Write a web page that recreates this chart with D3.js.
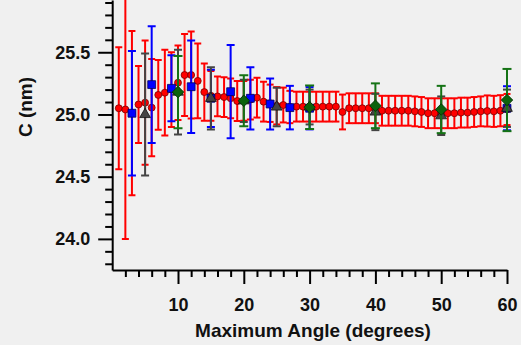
<!DOCTYPE html>
<html>
<head>
<meta charset="utf-8">
<script src="https://cdn.jsdelivr.net/npm/d3@7"></script>
<style>
  html, body { margin: 0; padding: 0; background: #f0f0f0; }
  svg { display: block; font-family: "Liberation Sans", Arial, sans-serif; font-weight: bold; }
</style>
</head>
<body>
<div id="app"></div>
<script>
// ---------- DATA ----------

// red: every degree
const redAngle = [1,2,3,4,5,6,7,8,9,10,11,12,13,14,15,16,17,18,19,20,
  21,22,23,24,25,26,27,28,29,30,31,32,33,34,35,36,37,38,39,40,
  41,42,43,44,45,46,47,48,49,50,51,52,53,54,55,56,57,58,59,60];
const redC = [25.05,25.04,25.01,25.08,25.095,25.055,25.157,25.175,25.20,25.255,
  25.317,25.317,25.27,25.18,25.15,25.145,25.14,25.13,25.108,25.11,
  25.12,25.135,25.103,25.09,25.07,25.076,25.06,25.063,25.063,25.063,
  25.063,25.063,25.063,25.063,25.02,25.05,25.05,25.05,25.05,25.05,
  25.03,25.03,25.03,25.03,25.03,25.025,25.02,25.01,25.01,25.01,
  25.01,25.01,25.015,25.015,25.02,25.025,25.028,25.025,25.03,25.04];
const redErr = [0.49,1.04,0.66,0.31,0.50,0.39,0.28,0.345,0.30,0.30,
  0.33,0.35,0.30,0.23,0.20,0.16,0.16,0.16,0.16,0.16,
  0.16,0.16,0.16,0.15,0.15,0.14,0.13,0.12,0.12,0.12,
  0.12,0.12,0.12,0.12,0.14,0.12,0.12,0.12,0.12,0.12,
  0.12,0.12,0.12,0.12,0.12,0.12,0.12,0.12,0.12,0.12,
  0.12,0.12,0.12,0.12,0.12,0.12,0.125,0.125,0.125,0.125];

// blue: every 3 degrees
const blueAngle = [3,6,9,12,15,18,21,24,27,30,60];
const blueC =   [25.01,25.24,25.21,25.223,25.13,25.183,25.13,25.084,25.055,25.05,25.05];
const blueErr = [0.50,0.47,0.265,0.372,0.23,0.375,0.25,0.205,0.175,0.17,0.177];

// gray: every 5 degrees
const grayAngle = [5,10,15,20,25,30,40,50,60];
const grayC =   [25.0,25.18,25.13,25.11,25.06,25.06,25.02,24.99,25.05];
const grayErr = [0.49,0.34,0.25,0.17,0.155,0.14,0.146,0.155,0.15];

// green: every 10 degrees
const greenAngle = [10,20,30,40,50,60];
const greenC =   [25.18,25.11,25.058,25.07,25.04,25.116];
const greenErr = [0.29,0.205,0.175,0.18,0.19,0.25];

const xMajor = [10,20,30,40,50,60];
const xMinor = [2,4,6,8,12,14,16,18,22,24,26,28,32,34,36,38,42,44,46,48,52,54,56,58];
const yMajor = [24.0,24.5,25.0,25.5];
const yMinor = [23.8,23.9,24.1,24.2,24.3,24.4,24.6,24.7,24.8,24.9,25.1,25.2,25.3,25.4,25.6,25.7,25.8,25.9];

// ---------- Layout ----------

const WIDTH = 521;
const HEIGHT = 345;
const PLOT_LEFT = 112.2;
const PLOT_RIGHT = 507;
const PLOT_TOP = 0;
const PLOT_BOTTOM = 270;

function main() {
    const svg = d3.select("#app")
        .append("svg")
        .attr("width", WIDTH)
        .attr("height", HEIGHT);

    const scaleX = d3.scaleLinear()
        .domain([0, 60])
        .range([PLOT_LEFT, PLOT_RIGHT]);

    const scaleY = d3.scaleLinear()
        .domain([23.75, 25.92])
        .range([PLOT_BOTTOM, PLOT_TOP]);

    svg.append("clipPath")
        .attr("id", "plot-clip")
        .append("rect")
        .attr("x", PLOT_LEFT - 10)
        .attr("y", PLOT_TOP)
        .attr("width", PLOT_RIGHT - PLOT_LEFT + 20)
        .attr("height", PLOT_BOTTOM - PLOT_TOP);

    const plot = svg.append("g").attr("clip-path", "url(#plot-clip)");

    // ---------- Series ----------

    const series = [
        {x: redAngle, c: redC, err: redErr, color: "#ff0000", fill: "#ff0000", edge: "#7a0000", cap: 7, shape: "circle"},
        {x: blueAngle, c: blueC, err: blueErr, color: "#0000ff", fill: "#0000ff", edge: "#00005a", cap: 8, shape: "square"},
        {x: grayAngle, c: grayC, err: grayErr, color: "#444444", fill: "#454545", edge: "#111111", cap: 8, shape: "triangle"},
        {x: greenAngle, c: greenC, err: greenErr, color: "#157315", fill: "#0c620c", edge: "#033303", cap: 9, shape: "diamond"}
    ];

    const symbols = {
        circle: d3.symbol(d3.symbolCircle, 38),
        square: d3.symbol(d3.symbolSquare, 62),
        triangle: d3.symbol(d3.symbolTriangle, 50),
        diamond: d3.symbol(d3.symbolSquare, 66)
    };

    series.forEach((s) => {
        const pts = s.x.map((x, i) => ({x: x, c: s.c[i], e: s.err[i]}));
        const g = plot.append("g");

        const bars = g.selectAll("g.err")
            .data(pts)
            .enter()
            .append("g")
            .attr("class", "err")
            .attr("stroke", s.color)
            .attr("stroke-width", 2);
        bars.append("line")
            .attr("x1", d => scaleX(d.x))
            .attr("x2", d => scaleX(d.x))
            .attr("y1", d => scaleY(d.c - d.e))
            .attr("y2", d => scaleY(d.c + d.e));
        bars.append("line")
            .attr("x1", d => scaleX(d.x) - s.cap / 2)
            .attr("x2", d => scaleX(d.x) + s.cap / 2)
            .attr("y1", d => scaleY(d.c + d.e))
            .attr("y2", d => scaleY(d.c + d.e));
        bars.append("line")
            .attr("x1", d => scaleX(d.x) - s.cap / 2)
            .attr("x2", d => scaleX(d.x) + s.cap / 2)
            .attr("y1", d => scaleY(d.c - d.e))
            .attr("y2", d => scaleY(d.c - d.e));

        // diamonds are squares turned by 45 degrees
        const rot = s.shape === "diamond" ? " rotate(45)" : "";
        g.selectAll("path.mark")
            .data(pts)
            .enter()
            .append("path")
            .attr("class", "mark")
            .attr("d", symbols[s.shape])
            .attr("transform", d => `translate(${scaleX(d.x)}, ${scaleY(d.c)})${rot}`)
            .attr("fill", s.fill)
            .attr("stroke", s.edge)
            .attr("stroke-width", 0.8);
    });

    // ---------- Axes ----------

    // x minor
    svg.append("g")
        .attr("transform", `translate(0, ${PLOT_BOTTOM})`)
        .call(d3.axisBottom(scaleX).tickValues(xMinor).tickSize(7).tickSizeOuter(0).tickFormat(""))
        .call(g => g.select(".domain").remove());
    // x major
    svg.append("g")
        .attr("class", "x-axis")
        .attr("transform", `translate(0, ${PLOT_BOTTOM})`)
        .call(d3.axisBottom(scaleX).tickValues(xMajor).tickSize(14).tickSizeOuter(0).tickPadding(14).tickFormat(d3.format("d")));

    // y minor
    svg.append("g")
        .attr("transform", `translate(${PLOT_LEFT}, 0)`)
        .call(d3.axisLeft(scaleY).tickValues(yMinor).tickSize(7).tickSizeOuter(0).tickFormat(""))
        .call(g => g.select(".domain").remove());
    // y major
    svg.append("g")
        .attr("class", "y-axis")
        .attr("transform", `translate(${PLOT_LEFT}, 0)`)
        .call(d3.axisLeft(scaleY).tickValues(yMajor).tickSize(14).tickSizeOuter(0).tickPadding(8).tickFormat(d3.format(".1f")));

    svg.selectAll(".tick line").attr("stroke", "#000").attr("stroke-width", 2);
    svg.selectAll(".domain").attr("stroke", "#000").attr("stroke-width", 2);
    svg.selectAll(".tick text")
        .attr("fill", "#111")
        .style("font-size", "18px")
        .style("font-family", "'Liberation Sans', Arial, sans-serif")
        .style("font-weight", "bold");

    // axis titles
    svg.append("text")
        .attr("x", 313)
        .attr("y", 337)
        .attr("text-anchor", "middle")
        .attr("fill", "#111")
        .style("font-size", "19px")
        .text("Maximum Angle (degrees)");

    svg.append("text")
        .attr("transform", `translate(32, 107) rotate(-90)`)
        .attr("text-anchor", "middle")
        .attr("fill", "#111")
        .style("font-size", "19px")
        .text("C (nm)");
}

main();
</script>
</body>
</html>
